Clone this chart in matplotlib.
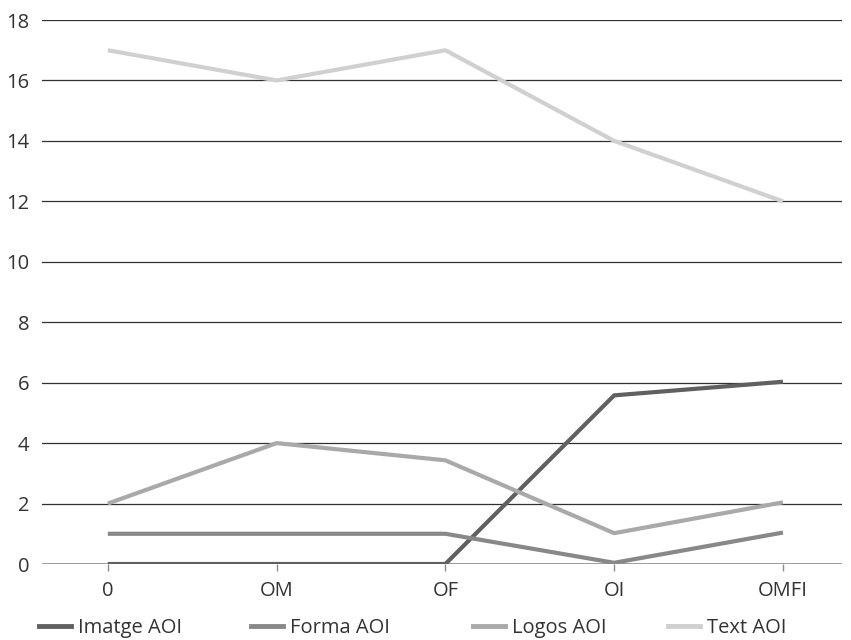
import matplotlib.pyplot as plt
from matplotlib.lines import Line2D

categories = ["0", "OM", "OF", "OI", "OMFI"]
imatge = [0, 0, 0, 5.58, 6.03]
forma = [1, 1, 1, 0.04, 1.04]
logos = [2, 4, 3.43, 1.02, 2.04]
text_aoi = [17, 16, 17, 14, 12]
series_names = ["Imatge AOI", "Forma AOI", "Logos AOI", "Text AOI"]
y_ticks = [0, 2, 4, 6, 8, 10, 12, 14, 16, 18]

colors = ["#606060", "#888888", "#a9a9a9", "#d0d0d0"]
FS = 14.5

plt.rcParams['font.family'] = ['Open Sans', 'DejaVu Sans']

fig = plt.figure(figsize=(8.51, 6.4), dpi=100)
ax = fig.add_axes([42 / 851, 1 - 564 / 640, 800 / 851, 544 / 640])

x = list(range(len(categories)))
for vals, c in zip([imatge, forma, logos, text_aoi], colors):
    ax.plot(x, vals, color=c, lw=3.0, solid_capstyle='butt', zorder=3)

for yv in y_ticks[1:]:
    ax.axhline(yv, color='#303030', lw=0.9, zorder=1)
ax.axhline(0, color='#8c8c8c', lw=1.2, zorder=2)

ax.set_xlim(-0.39, 4.35)
ax.set_ylim(0, 18)
ax.set_yticks(y_ticks)
ax.set_xticks(x)
ax.set_xticklabels(categories)
for s in ax.spines.values():
    s.set_visible(False)
ax.tick_params(axis='y', length=0, pad=9, labelsize=FS, labelcolor='#333333')
ax.tick_params(axis='x', length=5, width=1, color='#8c8c8c', direction='out',
               pad=7, labelsize=FS, labelcolor='#333333')

# Legend entries at fixed spacing along the bottom
legend_x = [39, 251, 473, 668]
for name, c, lx in zip(series_names, colors, legend_x):
    h = Line2D([], [], color=c, lw=3.5)
    leg = fig.legend([h], [name], loc='center left',
                     bbox_to_anchor=(lx / 851, 1 - 628 / 640),
                     frameon=False, borderpad=0, borderaxespad=0,
                     handlelength=1.6, handletextpad=0.35, fontsize=FS)
    for t in leg.get_texts():
        t.set_color('#333333')

fig.savefig("out.png", dpi=100)
